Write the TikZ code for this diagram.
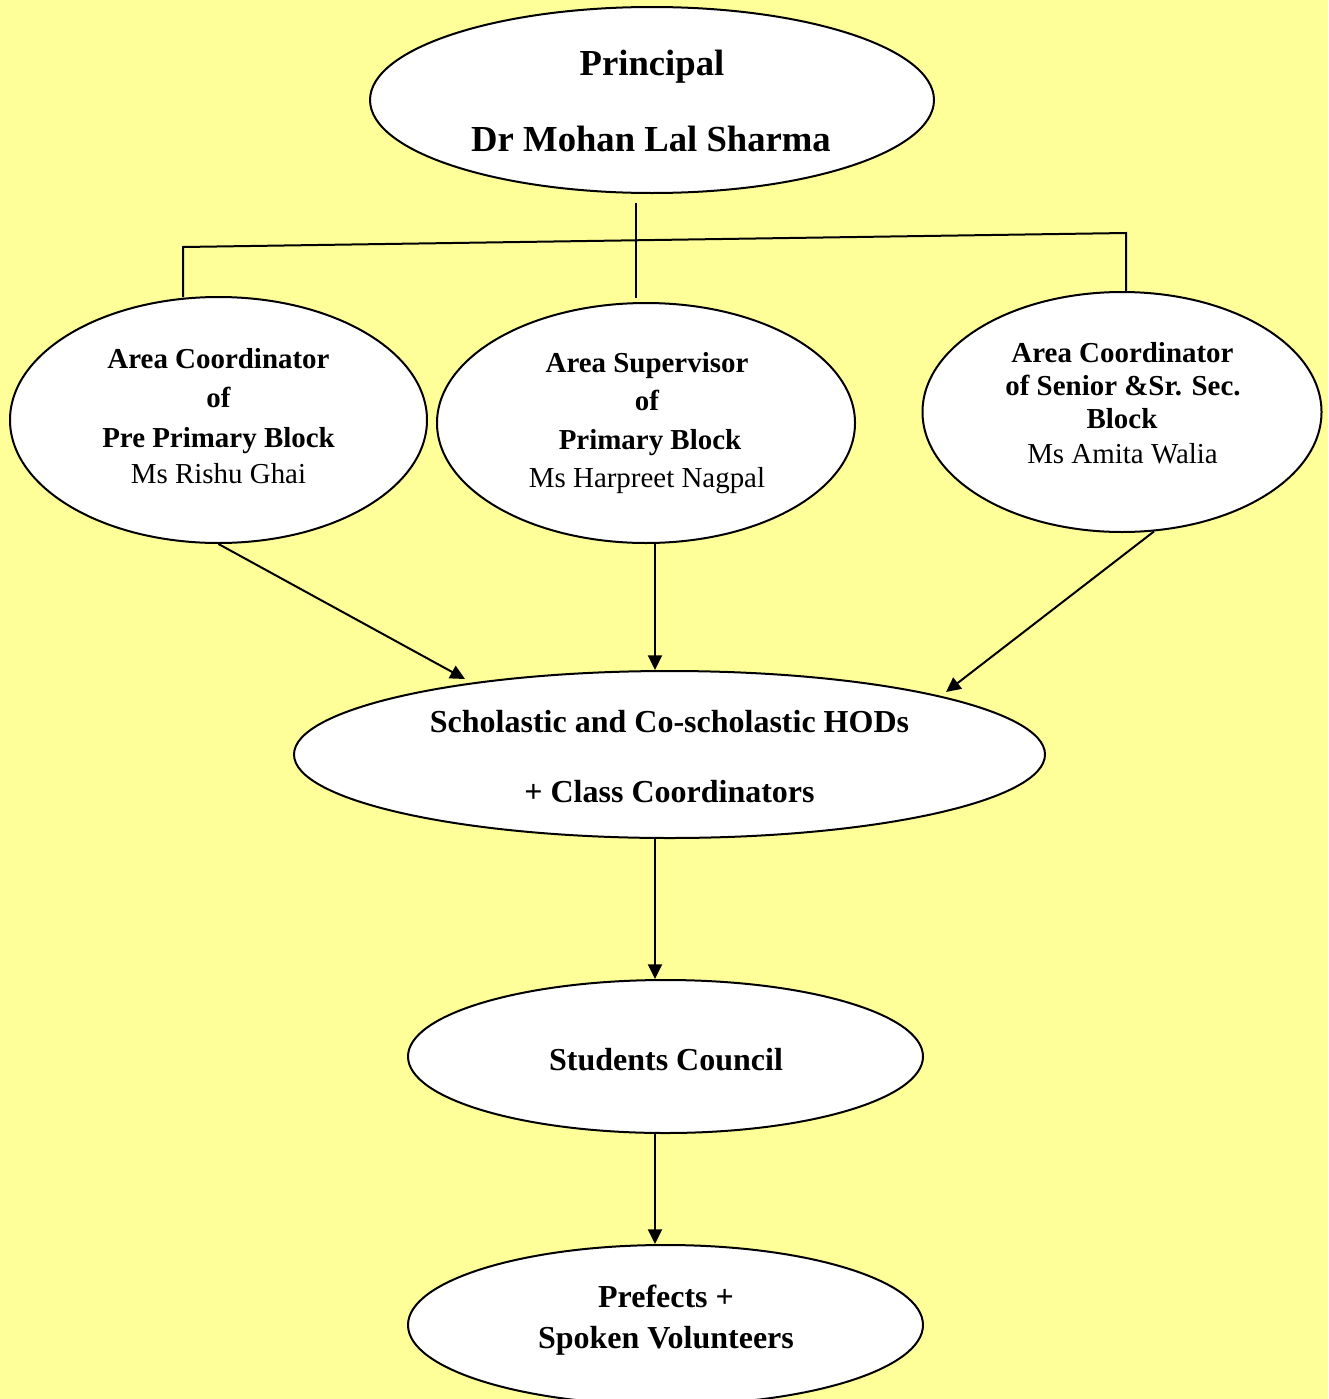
\documentclass[tikz,border=0pt]{standalone}
\usepackage{fontspec}
\setmainfont{Liberation Serif}
\usetikzlibrary{arrows.meta,shapes.geometric}
\definecolor{bgyellow}{HTML}{FFFF99}
\tikzset{
  bubble/.style={ellipse,draw=black,fill=white,line width=1.5pt,inner sep=0pt},
  conn/.style={draw=black,line width=1.5pt},
  arr/.style={conn,-{Triangle[length=11pt,width=10.5pt]}},
  ln/.style={anchor=base,inner sep=0pt,text=black},
  big/.style={ln,font=\fontsize{27.5}{30}\selectfont\bfseries},
  mid/.style={ln,font=\fontsize{24}{28}\selectfont\bfseries},
  sbold/.style={ln,font=\fontsize{21.7}{26}\selectfont\bfseries},
  sreg/.style={ln,font=\fontsize{21.7}{26}\selectfont},
}
\begin{document}
\begin{tikzpicture}[x=0.75pt,y=-0.75pt]
\useasboundingbox (0,0) rectangle (1328,1399);
\fill[bgyellow] (0,0) rectangle (1328,1399);

% ellipses
\node[bubble,minimum width=423pt,minimum height=139.5pt] (pr) at (652,100) {};
\node[bubble,minimum width=312.75pt,minimum height=184.5pt] (a1) at (218.5,420) {};
\node[bubble,minimum width=313.5pt,minimum height=180pt] (a2) at (646,423) {};
\node[bubble,minimum width=299.25pt,minimum height=180pt] (a3) at (1122,412) {};
\node[bubble,minimum width=563.25pt,minimum height=125.25pt] (hod) at (669.5,754.5) {};
\node[bubble,minimum width=386.25pt,minimum height=114.75pt] (sc) at (665.5,1056.5) {};
\node[bubble,minimum width=386.25pt,minimum height=120pt] (pf) at (665.5,1325) {};

% texts
\node[big] (prt1) at (652,75) {Principal};
\node[big] (prt2) at (651,151) {Dr Mohan Lal Sharma};

\node[sbold] (a1t1) at (218.5,368) {Area Coordinator};
\node[sbold] (a1t2) at (218.5,407) {of};
\node[sbold] (a1t3) at (218.5,447) {Pre Primary Block};
\node[sreg]  (a1t4) at (218.5,483) {Ms Rishu Ghai};

\node[sbold] (a2t1) at (647,372) {Area Supervisor};
\node[sbold] (a2t2) at (647,410) {of};
\node[sbold] (a2t3) at (650,449) {Primary Block};
\node[sreg]  (a2t4) at (647,487) {Ms Harpreet Nagpal};

\node[sbold] (a3t1) at (1122.5,362) {Area Coordinator};
\node[sbold] (a3t2) at (1123,395) {of Senior \&Sr. Sec.};
\node[sbold] (a3t3) at (1122,428) {Block};
\node[sreg]  (a3t4) at (1122.5,463) {Ms Amita Walia};

\node[mid] (hodt1) at (669.5,732) {Scholastic and Co-scholastic HODs};
\node[mid] (hodt2) at (669.5,802) {+ Class Coordinators};

\node[mid] (sct) at (666,1070) {Students Council};

\node[mid] (pft1) at (666,1307) {Prefects +};
\node[mid] (pft2) at (666,1348) {Spoken Volunteers};

% junction coordinates
\coordinate (tA) at (636,203);
\coordinate (tB) at (636,298);
\coordinate (lT) at (183,247);
\coordinate (lB) at (183,297);
\coordinate (rT) at (1126,233);
\coordinate (rB) at (1126,291);
\coordinate (ax) at (655,0);
\coordinate (h1) at (465,679);
\coordinate (h3) at (946,692);

% tree connectors
\draw[conn] (tA) -- (tB);
\draw[conn] (lB) -- (lT) -- (rT) -- (rB);

% arrows
\draw[arr] (a1.south) -- (h1);
\draw[arr] (a2.south -| ax) -- (hod.north -| ax);
\draw[arr] (a3.-75) -- (h3);
\draw[arr] (hod.south -| ax) -- (sc.north -| ax);
\draw[arr] (sc.south -| ax) -- (pf.north -| ax);
\end{tikzpicture}
\end{document}
